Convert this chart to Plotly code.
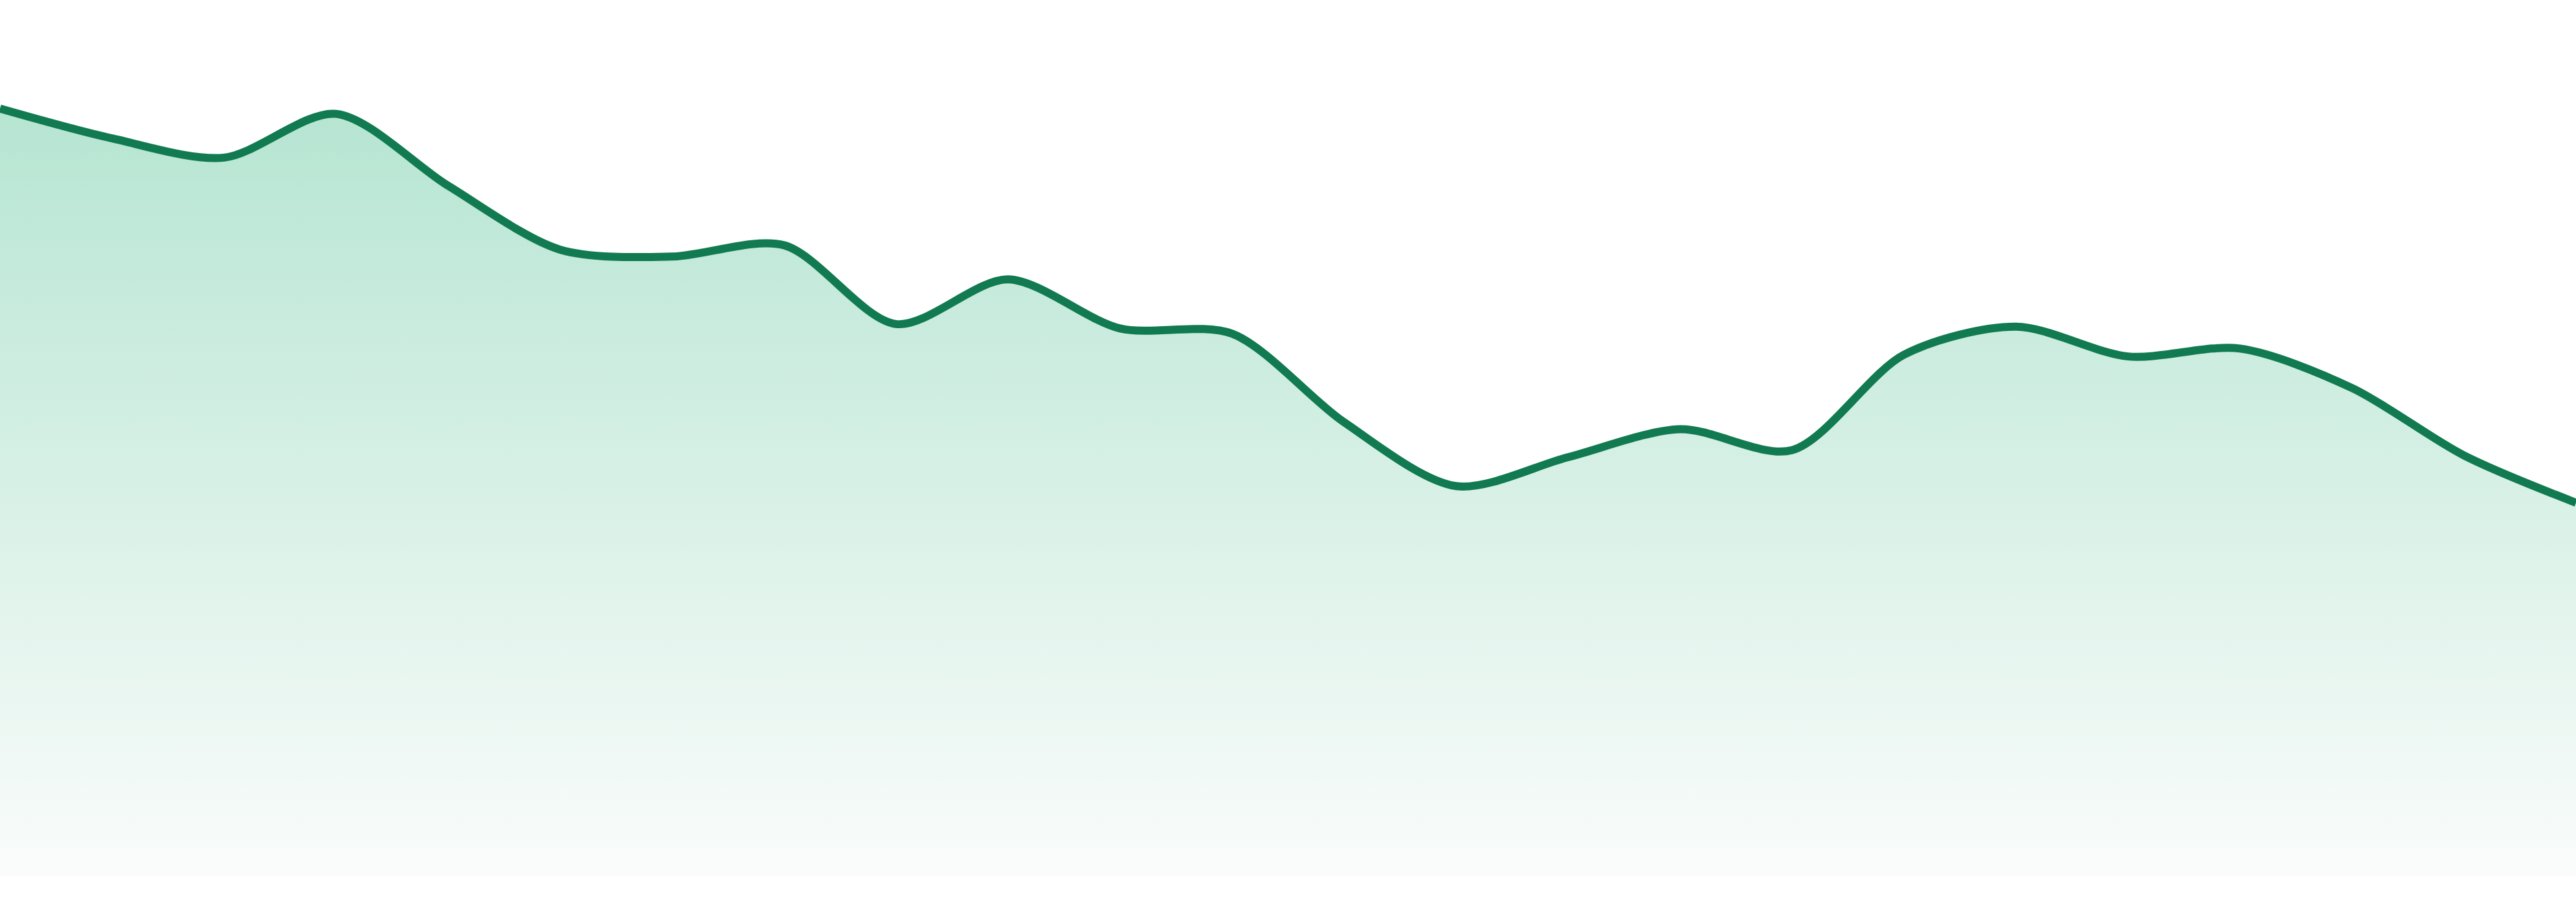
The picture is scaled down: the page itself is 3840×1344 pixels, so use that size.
import plotly.graph_objects as go

# ── data (24 evenly spaced samples) ──
days = list(range(24))
values = [87.6, 84.2, 82.0, 87.0, 78.8, 71.5, 70.7, 72.0, 63.0, 68.1, 62.5, 61.9,
          51.8, 44.5, 47.8, 51.0, 48.6, 59.5, 62.7, 59.3, 60.2, 55.7, 48.0, 42.6]

LINE_COLOR = "#117a51"
FILL_TOP = "rgb(182,229,210)"
FILL_BOTTOM = "rgb(250,252,251)"

fig = go.Figure()
fig.add_trace(go.Scatter(
    x=days,
    y=values,
    mode="lines",
    line=dict(color=LINE_COLOR, width=12, shape="spline", smoothing=0.85),
    fill="tozeroy",
    fillgradient=dict(
        type="vertical",
        colorscale=[[0, FILL_BOTTOM], [1, FILL_TOP]],
        start=0,
        stop=max(values),
    ),
    hoverinfo="skip",
    showlegend=False,
))

fig.update_layout(
    width=3840,
    height=1344,
    margin=dict(l=0, r=0, t=0, b=39),
    paper_bgcolor="white",
    plot_bgcolor="white",
    showlegend=False,
)
fig.update_xaxes(visible=False, range=[0, 23], fixedrange=True)
fig.update_yaxes(visible=False, range=[0, 100], fixedrange=True)

# browser default body margin would shift the whole figure by 8px
fig.write_html("out.html", config={"displayModeBar": False},
               post_script="document.body.style.margin='0';")
